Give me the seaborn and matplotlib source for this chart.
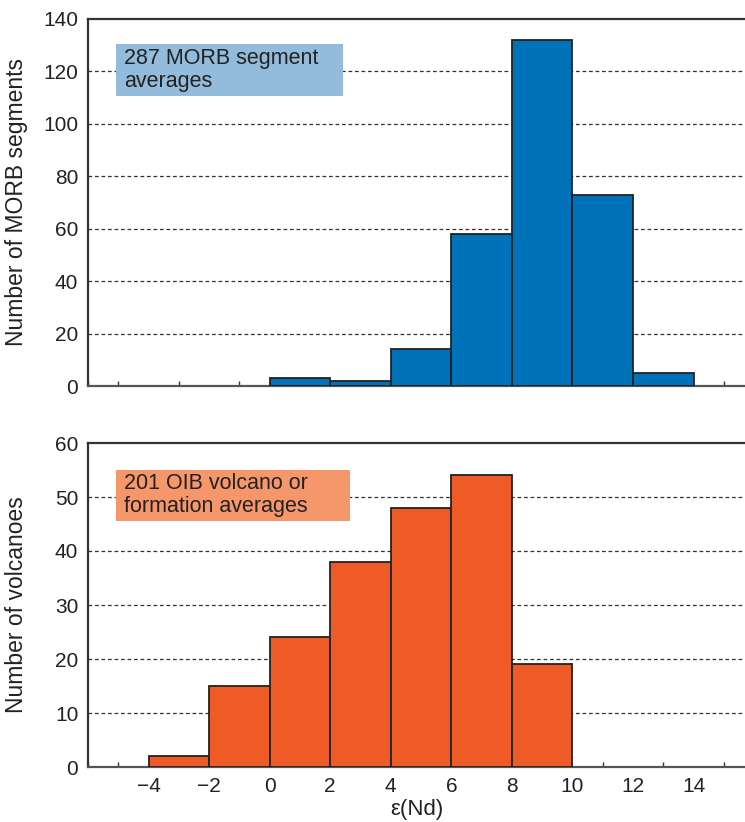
import numpy as np
import pandas as pd
import matplotlib
matplotlib.use("Agg")
import matplotlib.pyplot as plt
from matplotlib.patches import Rectangle
from matplotlib.ticker import MultipleLocator
import seaborn as sns

# Histogram bins (epsilon Nd) and counts per bin
morb_edges = [0, 2, 4, 6, 8, 10, 12, 14]
morb_counts = [3, 2, 14, 58, 132, 73, 5]
oib_edges = [-4, -2, 0, 2, 4, 6, 8, 10]
oib_counts = [2, 15, 24, 38, 48, 54, 19]

morb_label = "287 MORB segment\naverages"
oib_label = "201 OIB volcano or\nformation averages"
x_ticks = [-4, -2, 0, 2, 4, 6, 8, 10, 12, 14]

sns.set_theme(style="white")
plt.rcParams["font.family"] = ["Liberation Sans", "DejaVu Sans"]

W, H = 745, 822
fig = plt.figure(figsize=(W / 100, H / 100), dpi=100)
left = 88 / W
ax1 = fig.add_axes([left, 1 - 386 / H, 1.0 - left, 367 / H])
ax2 = fig.add_axes([left, 1 - 767 / H, 1.0 - left, 324 / H])

edge = "#222222"
spine_c = "#333333"
txt_c = "#222222"


def to_frame(edges, counts):
    centers = [(a + b) / 2 for a, b in zip(edges[:-1], edges[1:])]
    return pd.DataFrame({"eps": centers, "n": counts})


df1 = to_frame(morb_edges, morb_counts)
df2 = to_frame(oib_edges, oib_counts)

sns.histplot(data=df1, x="eps", weights="n", bins=morb_edges, ax=ax1,
             color="#0072BA", alpha=1, edgecolor=edge, linewidth=1.3, zorder=3)
sns.histplot(data=df2, x="eps", weights="n", bins=oib_edges, ax=ax2,
             color="#EE5B27", alpha=1, edgecolor=edge, linewidth=1.3, zorder=3)

xlim = (-6, -6 + (W - 88) / 30.28)
for ax, ymax, ystep in [(ax1, 140, 20), (ax2, 60, 10)]:
    ax.set_xlim(*xlim)
    ax.set_ylim(0, ymax)
    ax.yaxis.set_major_locator(MultipleLocator(ystep))
    ax.set_xticks(x_ticks)
    ax.xaxis.set_minor_locator(MultipleLocator(1))
    for y in np.arange(ystep, ymax, ystep):
        ax.axhline(y, color="#333333", lw=0.9, ls=(0, (3, 2.2)), zorder=1)
    ax.tick_params(axis="x", which="major", direction="in", length=6,
                   width=1.2, color=spine_c, labelsize=15, pad=7)
    ax.tick_params(axis="x", which="minor", direction="in", length=3.5,
                   width=1.0, color=spine_c, bottom=True)
    ax.tick_params(axis="y", length=0, labelsize=15, pad=7, colors=txt_c)
    ax.tick_params(axis="x", labelcolor=txt_c)
    for s in ["left", "top", "bottom"]:
        ax.spines[s].set_color(spine_c)
        ax.spines[s].set_linewidth(1.6)
    ax.spines["bottom"].set_color("#555555")
    ax.spines["right"].set_visible(False)
    ax.set_xlabel("")

ax1.tick_params(axis="x", labelbottom=False)
ax1.set_ylabel("Number of MORB segments", fontsize=16.5, color=txt_c)
ax2.set_ylabel("Number of volcanoes", fontsize=16.5, color=txt_c)
ax2.set_xlabel("ε(Nd)", fontsize=16, color=txt_c, labelpad=2)

# Labelled boxes
ax1.add_patch(Rectangle((-5.075, 110.7), 7.5, 19.8, facecolor="#93BBDC",
                        edgecolor="none", zorder=4))
ax1.text(-4.8, 120.6, morb_label, fontsize=15.5, color=txt_c,
         va="center", ha="left", linespacing=1.12, zorder=5)
ax2.add_patch(Rectangle((-5.075, 45.6), 7.73, 9.45, facecolor="#F5966B",
                        edgecolor="none", zorder=4))
ax2.text(-4.8, 50.3, oib_label, fontsize=15.5, color=txt_c,
         va="center", ha="left", linespacing=1.12, zorder=5)

ax1.yaxis.set_label_coords(-0.092, 0.5)
ax2.yaxis.set_label_coords(-0.092, 0.5)

fig.savefig("out.png", dpi=100)
